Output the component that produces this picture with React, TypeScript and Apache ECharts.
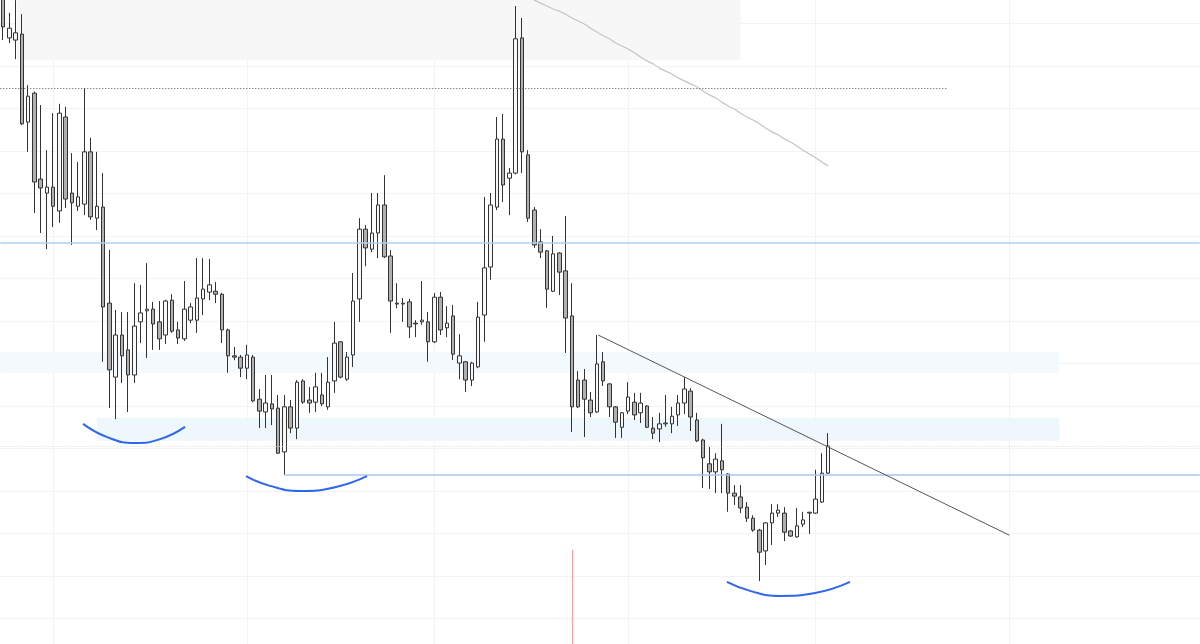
import React, { useEffect, useRef } from "react";
import * as echarts from "echarts";

// ---- categories (daily, no gaps) ----
const START_UTC = Date.UTC(2021, 6, 24);
const DAY_MS = 86400000;
const SLOT_COUNT = 192;
const categories: string[] = Array.from({ length: SLOT_COUNT }, (_, i) =>
  new Date(START_UTC + i * DAY_MS).toISOString().slice(0, 10)
);

// ---- candles: [open, close, low, high] ----
const ohlc: number[][] = [
  [246.7, 239.2, 236.1, 247.9],
  [236.6, 238.9, 235.4, 242.5],
  [236.1, 237.8, 231.6, 245.5],
  [237.5, 216.4, 216.1, 242.2],
  [216.8, 222.9, 209.8, 225.5],
  [223.6, 202.7, 195.4, 224.0],
  [203.4, 201.3, 190.7, 220.8],
  [200.1, 201.5, 186.9, 210.2],
  [201.5, 197.0, 192.1, 218.9],
  [195.9, 218.9, 193.1, 221.1],
  [218.0, 198.7, 196.6, 220.4],
  [200.1, 197.8, 187.9, 209.5],
  [197.0, 199.2, 195.9, 207.4],
  [197.5, 209.8, 194.9, 224.8],
  [209.8, 194.5, 193.8, 213.1],
  [194.2, 197.0, 191.4, 209.8],
  [196.8, 173.3, 160.4, 204.8],
  [174.2, 158.5, 149.5, 186.7],
  [156.8, 166.7, 146.9, 172.6],
  [166.7, 161.8, 155.4, 172.1],
  [163.2, 157.3, 148.6, 172.1],
  [157.3, 168.8, 155.4, 178.9],
  [169.8, 171.9, 164.8, 178.5],
  [172.4, 172.8, 161.3, 183.6],
  [172.8, 169.3, 163.2, 174.5],
  [169.8, 165.8, 163.2, 174.7],
  [166.7, 174.7, 164.6, 175.0],
  [174.9, 167.6, 167.2, 176.3],
  [167.9, 166.0, 164.6, 169.8],
  [165.8, 172.8, 165.3, 179.4],
  [170.2, 173.3, 169.5, 174.2],
  [170.2, 175.4, 167.2, 184.8],
  [175.2, 177.5, 171.4, 184.8],
  [176.8, 178.5, 174.9, 184.6],
  [177.0, 176.3, 174.2, 179.2],
  [176.3, 167.9, 164.8, 176.6],
  [167.9, 161.8, 157.8, 168.2],
  [161.8, 161.5, 160.8, 163.9],
  [161.5, 158.9, 156.8, 162.0],
  [158.9, 162.0, 156.3, 164.4],
  [161.5, 151.2, 150.9, 162.0],
  [151.6, 148.8, 144.8, 154.0],
  [148.6, 150.7, 144.8, 157.3],
  [150.5, 149.3, 145.5, 157.3],
  [149.5, 138.9, 138.7, 152.6],
  [139.2, 149.8, 133.8, 152.6],
  [149.8, 144.8, 143.6, 151.4],
  [144.8, 155.6, 142.2, 156.1],
  [155.9, 150.9, 150.5, 156.3],
  [151.4, 150.7, 148.4, 154.5],
  [150.9, 154.5, 148.6, 157.8],
  [152.6, 150.5, 150.0, 157.8],
  [149.8, 155.6, 149.1, 161.5],
  [155.9, 164.8, 153.1, 169.8],
  [165.1, 156.8, 156.5, 165.3],
  [156.3, 161.5, 155.9, 162.7],
  [162.0, 174.7, 159.2, 181.3],
  [175.2, 191.6, 169.8, 194.2],
  [191.6, 187.2, 182.9, 192.6],
  [186.9, 190.7, 186.2, 200.1],
  [190.7, 197.3, 184.8, 200.1],
  [197.3, 185.1, 184.8, 204.3],
  [185.3, 174.7, 167.2, 186.7],
  [174.2, 174.0, 173.0, 178.9],
  [174.0, 174.2, 169.8, 175.4],
  [174.5, 168.6, 166.0, 175.2],
  [169.5, 169.3, 166.2, 170.2],
  [169.8, 170.2, 169.1, 179.4],
  [169.8, 165.1, 160.4, 172.1],
  [165.1, 175.6, 164.8, 176.6],
  [175.6, 167.9, 166.7, 176.8],
  [168.4, 169.5, 166.2, 173.5],
  [171.2, 162.2, 160.8, 173.8],
  [160.1, 161.8, 156.3, 166.9],
  [160.4, 156.1, 153.3, 160.6],
  [156.1, 160.1, 154.7, 160.4],
  [159.2, 170.9, 158.9, 174.5],
  [171.4, 182.5, 165.1, 199.2],
  [182.7, 197.3, 179.7, 200.1],
  [196.8, 212.8, 196.1, 218.0],
  [212.8, 202.0, 198.0, 218.7],
  [203.6, 204.8, 194.9, 206.0],
  [204.8, 236.4, 204.5, 244.1],
  [236.6, 209.8, 204.8, 241.3],
  [209.1, 194.2, 193.3, 210.2],
  [196.1, 187.9, 187.2, 196.8],
  [188.6, 186.2, 184.8, 191.6],
  [186.5, 177.5, 173.1, 186.7],
  [177.0, 185.8, 176.8, 190.0],
  [186.0, 181.5, 176.1, 186.2],
  [181.8, 170.7, 162.5, 194.7],
  [171.2, 149.8, 143.9, 178.9],
  [156.1, 149.8, 149.5, 158.2],
  [156.1, 151.6, 142.7, 158.7],
  [151.4, 148.4, 147.4, 153.3],
  [148.6, 159.9, 148.4, 166.7],
  [160.4, 155.9, 154.7, 162.7],
  [155.2, 149.8, 147.4, 155.4],
  [149.8, 146.2, 142.5, 150.0],
  [145.0, 148.4, 142.5, 148.6],
  [148.8, 152.1, 148.1, 155.6],
  [150.9, 147.9, 146.7, 153.1],
  [148.4, 150.7, 146.0, 153.1],
  [150.0, 145.0, 144.8, 150.2],
  [144.8, 143.6, 142.2, 147.4],
  [144.6, 145.8, 141.5, 148.4],
  [145.8, 146.0, 145.1, 152.6],
  [145.8, 147.6, 143.6, 149.8],
  [147.9, 150.7, 145.3, 152.6],
  [150.7, 154.0, 148.1, 156.8],
  [153.5, 147.4, 144.1, 154.2],
  [146.7, 141.8, 141.5, 148.4],
  [142.0, 137.8, 130.7, 142.3],
  [136.4, 134.5, 130.5, 140.4],
  [134.5, 137.5, 129.5, 138.9],
  [137.1, 135.0, 129.5, 145.8],
  [134.0, 129.5, 125.1, 134.2],
  [129.5, 128.8, 126.7, 131.4],
  [128.6, 126.0, 124.8, 131.4],
  [126.2, 123.6, 122.7, 127.4],
  [123.6, 120.8, 120.4, 124.3],
  [120.8, 115.6, 108.8, 121.1],
  [115.9, 122.5, 112.6, 122.7],
  [122.5, 124.8, 117.3, 126.9],
  [124.8, 125.5, 123.9, 126.9],
  [124.8, 120.3, 118.2, 126.2],
  [120.6, 119.4, 119.2, 120.8],
  [119.2, 121.8, 119.0, 126.0],
  [122.2, 123.2, 121.5, 125.1],
  [124.8, 125.0, 119.9, 125.1],
  [124.8, 128.1, 124.6, 135.0],
  [127.4, 134.2, 127.2, 138.9],
  [134.2, 140.6, 134.0, 143.6],
];

// ---- long moving average (visible from slot 84) ----
const maStartIndex = 84;
const maValues: number[] = [
  246.9, 245.5, 244.8, 244.1, 243.4, 242.9, 242.2, 241.3, 240.6, 239.9,
  238.9, 238.0, 237.1, 236.4, 235.4, 234.7, 234.0, 233.1, 232.1, 231.2,
  230.5, 229.5, 228.8, 228.1, 227.2, 226.5, 225.8, 225.1, 224.1, 223.2,
  222.5, 221.5, 220.6, 219.9, 218.9, 218.0, 217.3, 216.4, 215.4, 214.5,
  213.8, 212.8, 212.1, 211.2, 210.2, 209.3, 208.4, 207.4, 206.5,
];

// ---- drawn annotations, in [slot, price] ----
const dottedLevel = 224.8;
const dottedLevelEnd = 151;
const resistanceLevel = 188.4;
const supportLevel = 133.8;
const supportStart = 45;
const lastPriceLevel = 140.6;
const trendFrom: [number, number] = [95.2, 166.7];
const trendTo: [number, number] = [161, 119.6];
const markerSlot = 91;
const markerTop = 116.1;
const markerBottom = 90;

const grayZone = { x1: 2.2, x2: 118, top: 250, bottom: 231.4 };
const zoneUpper = { x1: -0.45, x2: 169, top: 162.7, bottom: 157.8 };
const zoneLower = { x1: 15, x2: 169, top: 147.2, bottom: 141.8 };

const arcLeft: number[][] = [
  [12.78, 145.8], [16.94, 142.5], [21.1, 141.3], [25.1, 142.2], [29.1, 145.1],
];
const arcMiddle: number[][] = [
  [38.86, 133.5], [42.7, 131.2], [47.5, 130.0], [53.1, 130.9], [58.22, 133.5],
];
const arcRight: number[][] = [
  [115.8, 108.6], [119.5, 106.5], [124.3, 105.3], [129.9, 106.0], [135.5, 108.6],
];

const PRICE_MIN = 90;
const PRICE_MAX = 250;
const FAR_LEFT = -0.45;
const FAR_RIGHT = SLOT_COUNT - 0.55;

function buildOption(): any {
  const maSeries = categories.map((_, i) =>
    i >= maStartIndex && i - maStartIndex < maValues.length ? maValues[i - maStartIndex] : null
  );

  const hline = (y: number, x1: number, x2: number, style: any) => [
    { coord: [x1, y], lineStyle: style },
    { coord: [x2, y] },
  ];

  const arcSeries = (pts: number[][]) => ({
    type: "line",
    xAxisIndex: 1,
    yAxisIndex: 1,
    data: pts,
    smooth: true,
    symbol: "none",
    silent: true,
    z: 6,
    lineStyle: { color: "#2f66f0", width: 2 },
  });

  const zone = (z: any, color: string) => [
    { coord: [z.x1, z.top], itemStyle: { color } },
    { coord: [z.x2, z.bottom] },
  ];

  const hiddenAxisParts = {
    axisLine: { show: false },
    axisTick: { show: false },
    axisLabel: { show: false },
  };

  return {
    animation: false,
    backgroundColor: "#ffffff",
    grid: [
      { left: 3.125, right: 3.125, top: 0, bottom: 0 },
      { left: 0, right: 0, top: 0, bottom: 0 },
    ],
    xAxis: [
      {
        type: "category",
        gridIndex: 0,
        data: categories,
        boundaryGap: false,
        ...hiddenAxisParts,
        splitLine: {
          show: true,
          interval: (_i: number, v: string) => String(v).endsWith("-01"),
          lineStyle: { color: "#f3f3f3", width: 1 },
        },
      },
      {
        type: "value",
        gridIndex: 1,
        min: -0.5,
        max: SLOT_COUNT - 0.5,
        ...hiddenAxisParts,
        splitLine: { show: false },
      },
    ],
    yAxis: [
      {
        type: "value",
        gridIndex: 0,
        min: PRICE_MIN,
        max: PRICE_MAX,
        interval: 10,
        ...hiddenAxisParts,
        splitLine: { show: false },
      },
      {
        type: "value",
        gridIndex: 1,
        min: PRICE_MIN,
        max: PRICE_MAX,
        interval: 10,
        ...hiddenAxisParts,
        splitLine: { show: true, lineStyle: { color: "#f3f3f3", width: 1 } },
      },
    ],
    series: [
      {
        type: "line",
        xAxisIndex: 1,
        yAxisIndex: 1,
        data: [],
        silent: true,
        markArea: {
          silent: true,
          data: [
            zone(grayZone, "#f7f7f7"),
            zone(zoneUpper, "#f4f9fd"),
            zone(zoneLower, "#eef7fb"),
          ],
        },
        markLine: {
          silent: true,
          symbol: ["none", "none"],
          label: { show: false },
          data: [
            hline(dottedLevel, FAR_LEFT, dottedLevelEnd, { color: "#555555", width: 1, type: [1, 2] }),
            hline(lastPriceLevel, FAR_LEFT, FAR_RIGHT, { color: "#d6d6d6", width: 1, type: [1, 2] }),
            hline(resistanceLevel, FAR_LEFT, FAR_RIGHT, { color: "#b1d0ee", width: 1.6, type: "solid" }),
            hline(supportLevel, supportStart, FAR_RIGHT, { color: "#a9c6f0", width: 1.6, type: "solid" }),
            [
              { coord: trendFrom, lineStyle: { color: "#555555", width: 1, type: "solid" } },
              { coord: trendTo },
            ],
            [
              { coord: [markerSlot, markerTop], lineStyle: { color: "#f4a4a4", width: 1.2, type: "solid" } },
              { coord: [markerSlot, markerBottom] },
            ],
          ],
        },
      },
      {
        type: "candlestick",
        xAxisIndex: 0,
        yAxisIndex: 0,
        data: ohlc,
        barWidth: 4,
        silent: true,
        itemStyle: {
          color: "#f8f8f8",
          color0: "#b0b0b0",
          borderColor: "#333333",
          borderColor0: "#333333",
          borderWidth: 1,
        },
      },
      {
        type: "line",
        xAxisIndex: 0,
        yAxisIndex: 0,
        data: maSeries,
        symbol: "none",
        silent: true,
        lineStyle: { color: "#c4c4c4", width: 1.2 },
      },
      arcSeries(arcLeft),
      arcSeries(arcMiddle),
      arcSeries(arcRight),
    ],
  };
}

export default function App() {
  const ref = useRef<HTMLDivElement>(null);
  useEffect(() => {
    if (!ref.current) return;
    const chart = echarts.init(ref.current, undefined, { renderer: "svg" });
    chart.setOption(buildOption());
    return () => chart.dispose();
  }, []);
  // price axis spans 90..250 over 680px; the view shows 94..245.5
  return (
    <div
      ref={ref}
      style={{ position: "fixed", left: 0, top: -19, width: 1200, height: 680, background: "#ffffff" }}
    />
  );
}
